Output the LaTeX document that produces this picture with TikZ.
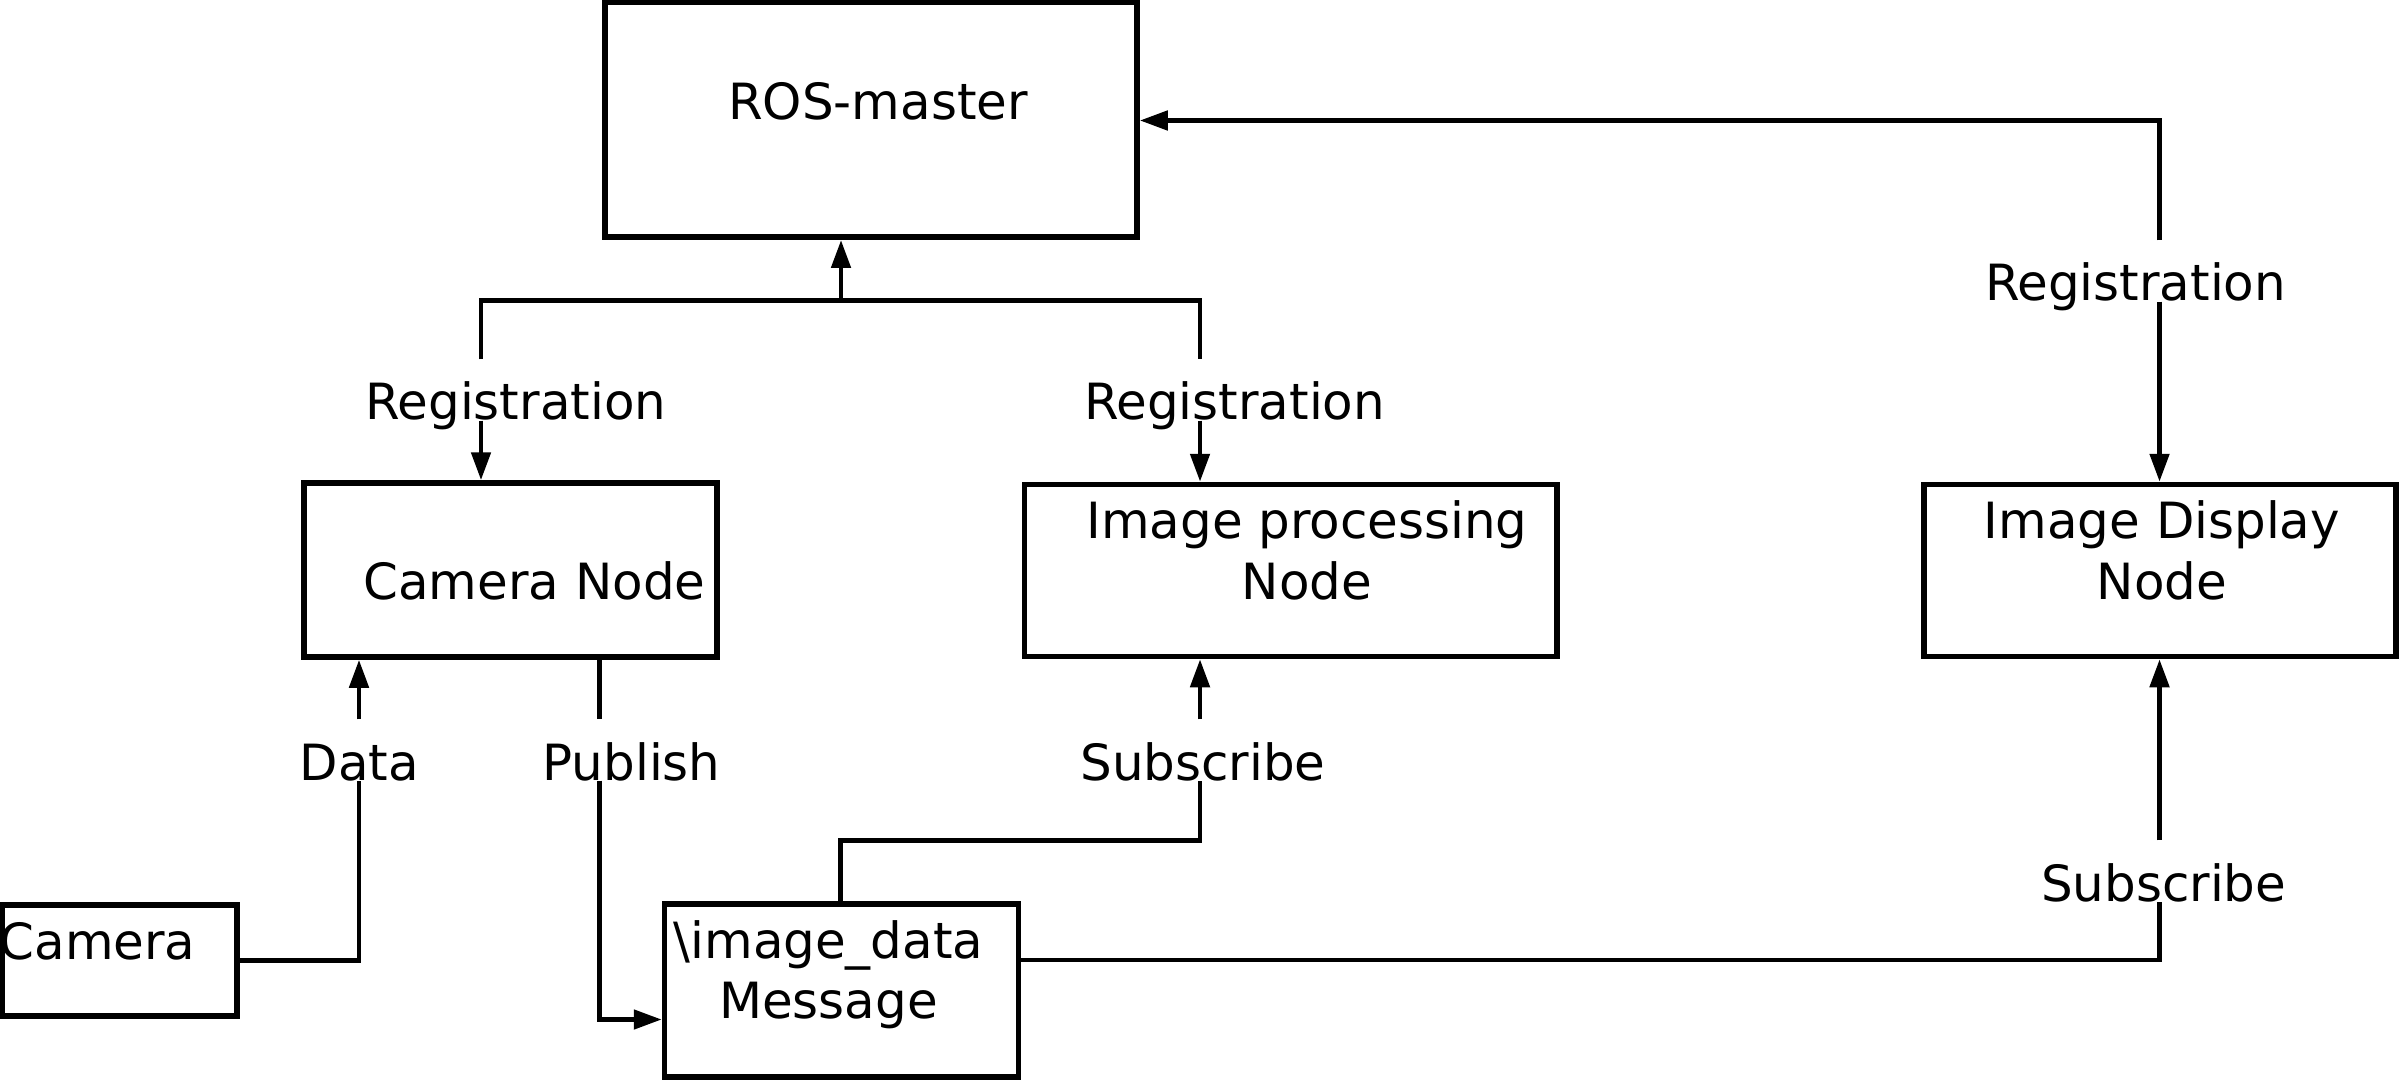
\documentclass[tikz,border=0pt]{standalone}
\usepackage{fontspec}
\setmainfont{DejaVu Sans}
\usetikzlibrary{arrows.meta}
\begin{document}
\begin{tikzpicture}[
  boxnode/.style={draw, line width=0.055cm, inner sep=0pt},
  lbl/.style={inner sep=0pt, anchor=base, text height=0.6cm, text depth=0pt, font=\fontsize{14.2}{17.1}\selectfont},
  intxt/.style={inner sep=0pt, anchor=base, align=center, font=\fontsize{14.2}{17.1}\selectfont},
  conn/.style={line width=0.048cm},
  arr/.style={conn, -{Triangle[length=0.28cm, width=0.19cm]}}
]
\useasboundingbox (0,0) rectangle (24,-10.8);

% boxes
\node[boxnode, minimum width=5.32cm, minimum height=2.345cm] (ros) at (8.71,-1.2) {};
\node[boxnode, minimum width=4.13cm, minimum height=1.74cm] (cam) at (5.105,-5.70) {};
\node[boxnode, minimum width=5.325cm, minimum height=1.72cm] (imp) at (12.9075,-5.705) {};
\node[boxnode, minimum width=4.72cm, minimum height=1.72cm] (disp) at (21.60,-5.705) {};
\node[boxnode, minimum width=2.35cm, minimum height=1.11cm] (camera) at (1.195,-9.605) {};
\node[boxnode, minimum width=3.54cm, minimum height=1.73cm] (msg) at (8.415,-9.905) {};

% box texts (base anchor = baseline of the last line)
\node[intxt] (ros-t) at (8.78,-1.20) {ROS-master};
\node[intxt] (cam-t) at (5.345,-5.99) {Camera Node};
\node[intxt] (imp-t) at (13.07,-5.99) {Image processing\\Node};
\node[intxt] (disp-t) at (21.62,-5.99) {Image Display\\Node};
\node[intxt] (camera-t) at (0.975,-9.594) {Camera};
\node[intxt] (msg-t) at (8.285,-10.186) {\textbackslash image\_data\\Message};

% connector labels
\node[lbl] (reg1) at (5.157,-4.20) {Registration};
\node[lbl] (reg2) at (12.345,-4.20) {Registration};
\node[lbl] (reg3) at (21.355,-3.01) {Registration};
\node[lbl] (data) at (3.595,-7.80) {Data};
\node[lbl] (pub) at (6.316,-7.80) {Publish};
\node[lbl] (sub1) at (12.03,-7.80) {Subscribe};
\node[lbl] (sub2) at (21.636,-9.01) {Subscribe};

% bend points
\coordinate (xA) at (4.81,0);
\coordinate (xB) at (12.0,0);
\coordinate (xD) at (3.59,0);
\coordinate (jr) at (8.41,-3.005);
\coordinate (tr) at (21.595,-1.205);
\coordinate (pb) at (5.995,-10.195);
\coordinate (sm) at (8.405,-8.405);
\coordinate (mr) at (21.595,-9.60);

% registration to ROS-master
\draw[conn] (reg1.north -| xA) |- (jr) -| (reg2.north -| xB);
\draw[arr] (jr) -- (ros.south -| jr);
\draw[arr] (reg1.south -| xA) -- (cam.north -| xA);
\draw[arr] (reg2.south -| xB) -- (imp.north -| xB);
\draw[arr] (reg3.north -| tr) -- (tr) -- (ros.east |- tr);
\draw[arr] (reg3.south -| tr) -- (disp.north -| tr);

% data
\draw[conn] (camera.east) -| (data.south -| xD);
\draw[arr] (data.north -| xD) -- (cam.south -| xD);

% publish
\draw[conn] (cam.south -| pb) -- (pub.north -| pb);
\draw[arr] (pub.south -| pb) |- (msg.west |- pb);

% subscribe
\draw[conn] (msg.north -| sm) -- (sm) -| (sub1.south -| xB);
\draw[arr] (sub1.north -| xB) -- (imp.south -| xB);
\draw[conn] (msg.east |- mr) -| (sub2.south -| tr);
\draw[arr] (sub2.north -| tr) -- (disp.south -| tr);
\end{tikzpicture}
\end{document}
